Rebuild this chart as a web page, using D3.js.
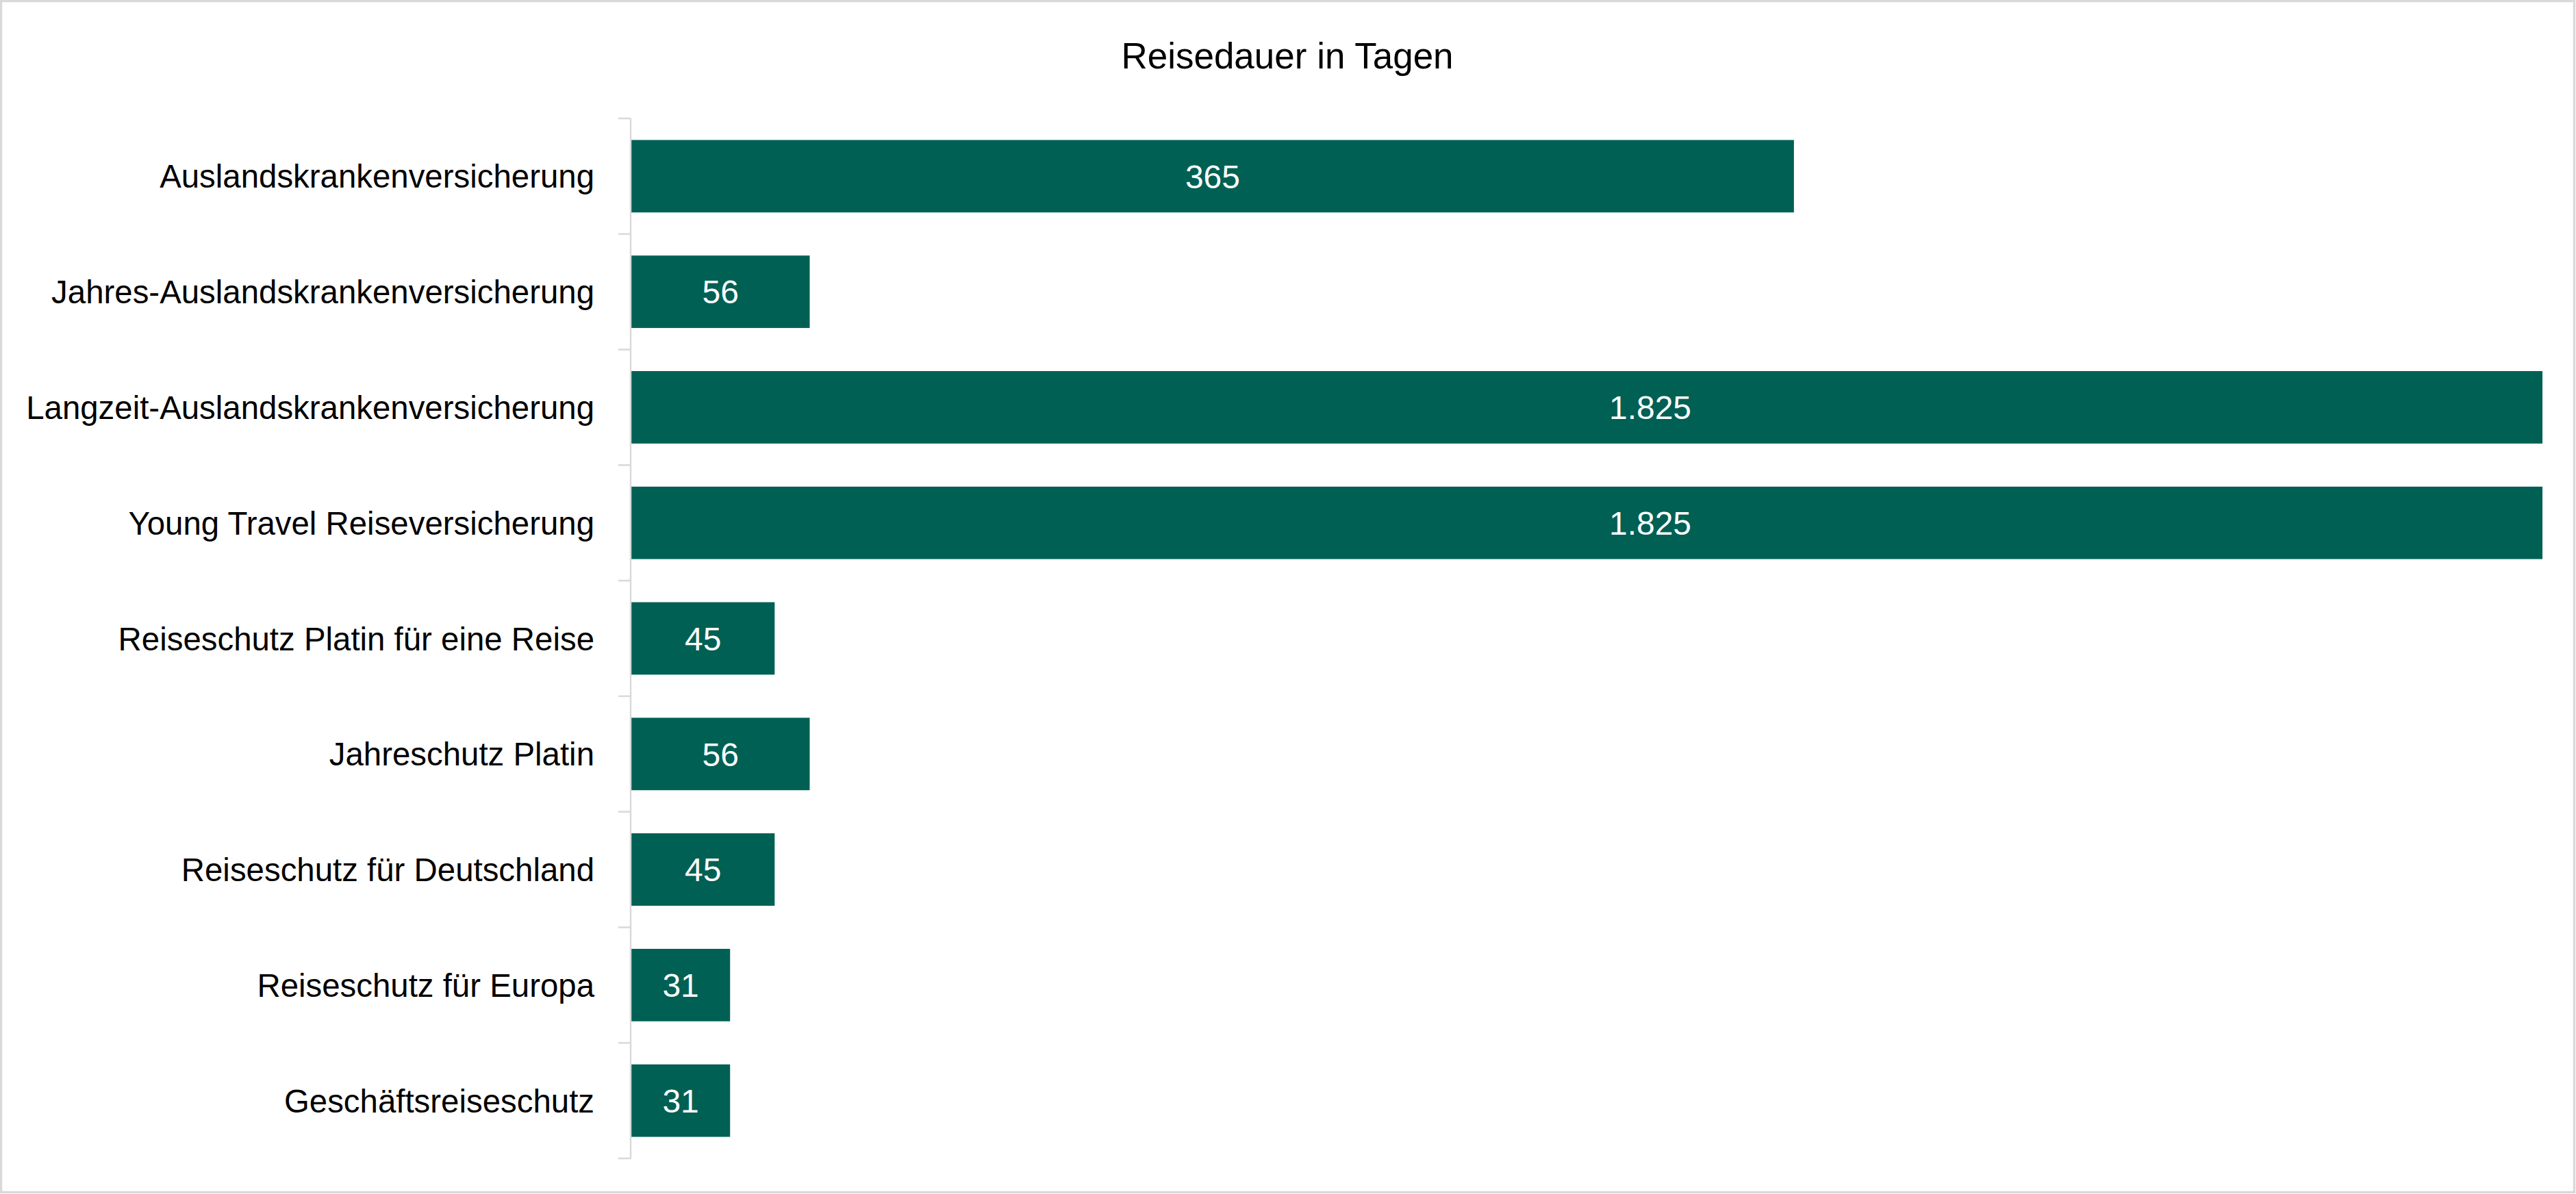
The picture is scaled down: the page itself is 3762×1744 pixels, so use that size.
<!DOCTYPE html>
<html>
<head>
<meta charset="utf-8">
<script src="https://cdn.jsdelivr.net/npm/d3@7"></script>
<style>
  html, body { margin: 0; padding: 0; background: #fff; }
  svg { display: block; }
  text { font-family: "Liberation Sans", Arial, sans-serif; }
</style>
</head>
<body>
<svg id="chart" width="3762" height="1744"></svg>
<script>
// ---- data ----
const title = "Reisedauer in Tagen";
const categories = [
  "Auslandskrankenversicherung",
  "Jahres-Auslandskrankenversicherung",
  "Langzeit-Auslandskrankenversicherung",
  "Young Travel Reiseversicherung",
  "Reiseschutz Platin für eine Reise",
  "Jahreschutz Platin",
  "Reiseschutz für Deutschland",
  "Reiseschutz für Europa",
  "Geschäftsreiseschutz"
];
const values = [365, 56, 1825, 1825, 45, 56, 45, 31, 31];
const axisMax = 600;

// ---- layout ----
const W = 3762, H = 1744;
const plot = { left: 922, right: 3713, top: 173, bottom: 1692 };
const barColor = "#006054";
const axisColor = "#d9d9d9";

const svg = d3.select("#chart");

// frame
svg.append("rect")
  .attr("x", 1.5).attr("y", 1.5)
  .attr("width", W - 4).attr("height", H - 4)
  .attr("fill", "#fff")
  .attr("stroke", axisColor).attr("stroke-width", 3.5);

const x = d3.scaleLinear().domain([0, axisMax]).range([plot.left, plot.right]).clamp(true);
const y = d3.scaleBand().domain(categories).range([plot.top, plot.bottom])
  .paddingInner(0.373).paddingOuter(0.373 / 2);

const data = categories.map((c, i) => ({ cat: c, value: values[i] }));
const fmt = d3.formatLocale({ decimal: ",", thousands: ".", grouping: [3], currency: ["", "€"] }).format(",d");

// title
svg.append("text")
  .attr("x", 1880).attr("y", 100)
  .attr("text-anchor", "middle")
  .attr("font-size", 53)
  .attr("fill", "#000")
  .text(title);

// bars
svg.append("g").selectAll("rect")
  .data(data).join("rect")
  .attr("x", x(0))
  .attr("y", d => y(d.cat))
  .attr("width", d => x(d.value) - x(0))
  .attr("height", y.bandwidth())
  .attr("fill", barColor);

// value labels (clipped bars: label placed as Excel does, beyond visible centre)
const clippedLabelRight = 3898;
svg.append("g").selectAll("text")
  .data(data).join("text")
  .attr("x", d => d.value > axisMax ? (x(0) + clippedLabelRight) / 2 : (x(0) + x(d.value)) / 2)
  .attr("y", d => y(d.cat) + y.bandwidth() / 2)
  .attr("dy", "0.36em")
  .attr("text-anchor", "middle")
  .attr("font-size", 48)
  .attr("fill", "#fff")
  .text(d => fmt(d.value));

// y axis
const axisG = svg.append("g");
const step = y.step();
const y0 = y.range()[0];
axisG.append("line")
  .attr("x1", x(0) - 1).attr("x2", x(0) - 1)
  .attr("y1", y0).attr("y2", y.range()[1])
  .attr("stroke", axisColor).attr("stroke-width", 2.5);
axisG.selectAll("line.tick")
  .data(d3.range(categories.length + 1)).join("line")
  .attr("class", "tick")
  .attr("x1", x(0) - 19).attr("x2", x(0) - 1)
  .attr("y1", i => y0 + i * step).attr("y2", i => y0 + i * step)
  .attr("stroke", axisColor).attr("stroke-width", 2.5);

// category labels
axisG.selectAll("text")
  .data(categories).join("text")
  .attr("x", x(0) - 54)
  .attr("y", d => y(d) + y.bandwidth() / 2)
  .attr("dy", "0.36em")
  .attr("text-anchor", "end")
  .attr("font-size", 47.4)
  .attr("fill", "#000")
  .text(d => d);
</script>
</body>
</html>
